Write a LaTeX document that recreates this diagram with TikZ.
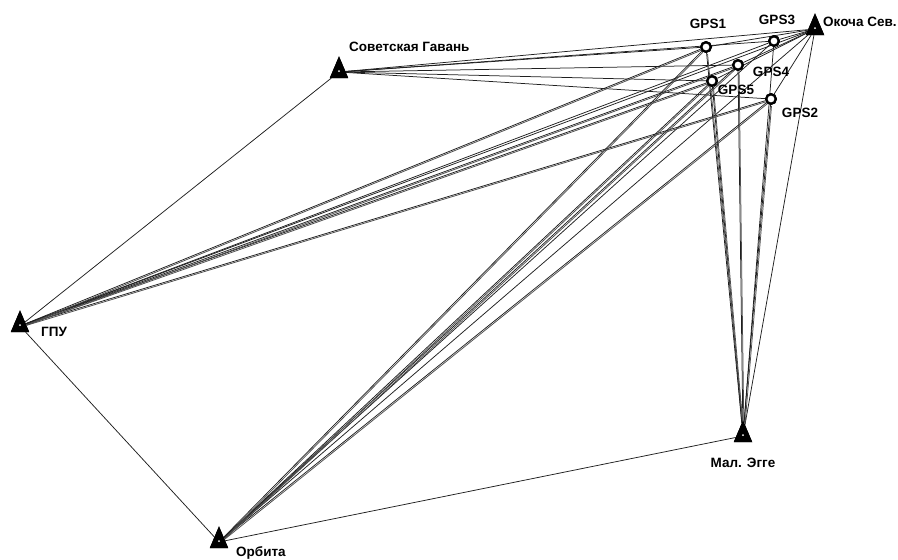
\documentclass[tikz,border=0pt]{standalone}
\usepackage{fontspec}
\setmainfont{Liberation Sans}
\usetikzlibrary{shapes.geometric}
\begin{document}
\begin{tikzpicture}[x=1pt,y=-1pt,
  station/.style={isosceles triangle, shape border rotate=90, isosceles triangle apex angle=46,
    minimum height=20pt, minimum width=15pt, inner sep=0pt, fill=black, draw=black, line width=1pt,
    path picture={\fill[white] ([yshift=-3.5pt]path picture bounding box.center) circle (1.1pt);}},
  gps/.style={circle, draw=black, fill=white, line width=2.3pt, minimum size=9.5pt, inner sep=0pt},
  lbl/.style={font=\fontsize{13.5}{15}\selectfont\bfseries, inner sep=0pt, text=black},
  link/.style={line width=0.75pt, draw=black!88}]
\useasboundingbox (0,0) rectangle (898,560);
% stations
\node[station] (OK)  at (815,29) {};
\node[station] (SG)  at (339,72) {};
\node[station] (GPU) at (20,326) {};
\node[station] (ORB) at (219,542) {};
\node[station] (ME)  at (743,436) {};
% gps points
\node[gps] (G1) at (706,47) {};
\node[gps] (G3) at (774,41) {};
\node[gps] (G4) at (738,65) {};
\node[gps] (G5) at (712,81) {};
\node[gps] (G2) at (771,99) {};
% connectors
\foreach \s in {SG,GPU,ORB,ME}{
  \foreach \g in {G1,G3,G4,G5,G2,OK}{
    \draw[link] (\s) -- (\g);
  }
}
\foreach \s in {GPU,ORB,ME}{
  \foreach \g in {G1,G4,G5,G2}{
    \draw[link, draw=black!70, transform canvas={shift={(1pt,-1pt)}}] (\s) -- (\g);
  }
}
\foreach \g in {G1,G3,G4,G5,G2}{ \draw[link] (OK) -- (\g); }
\draw[link] (SG) -- (GPU);
\draw[link] (GPU) -- (ORB);
\draw[link] (ORB) -- (ME);
% redraw nodes on top
\node[station] at (OK) {};
\node[station] at (SG) {};
\node[station] at (GPU) {};
\node[station] at (ORB) {};
\node[station] at (ME) {};
\foreach \g in {G1,G3,G4,G5,G2}{ \node[gps] at (\g) {}; }
% labels
\node[lbl, anchor=west] (tOK) at (823,22) {Окоча Сев.};
\node[lbl, anchor=west] (tSG) at (349,47) {Советская Гавань};
\node[lbl, anchor=west] (tGPU) at (41,332) {ГПУ};
\node[lbl, anchor=west] (tORB) at (236,553) {Орбита};
\node[lbl] (tME) at (743,463) {Мал. Эгге};
\node[lbl] (tG1) at (708,24) {GPS1};
\node[lbl] (tG3) at (777,20) {GPS3};
\node[lbl] (tG4) at (771,72) {GPS4};
\node[lbl] (tG5) at (736,90) {GPS5};
\node[lbl] (tG2) at (800,113) {GPS2};
\end{tikzpicture}
\end{document}
